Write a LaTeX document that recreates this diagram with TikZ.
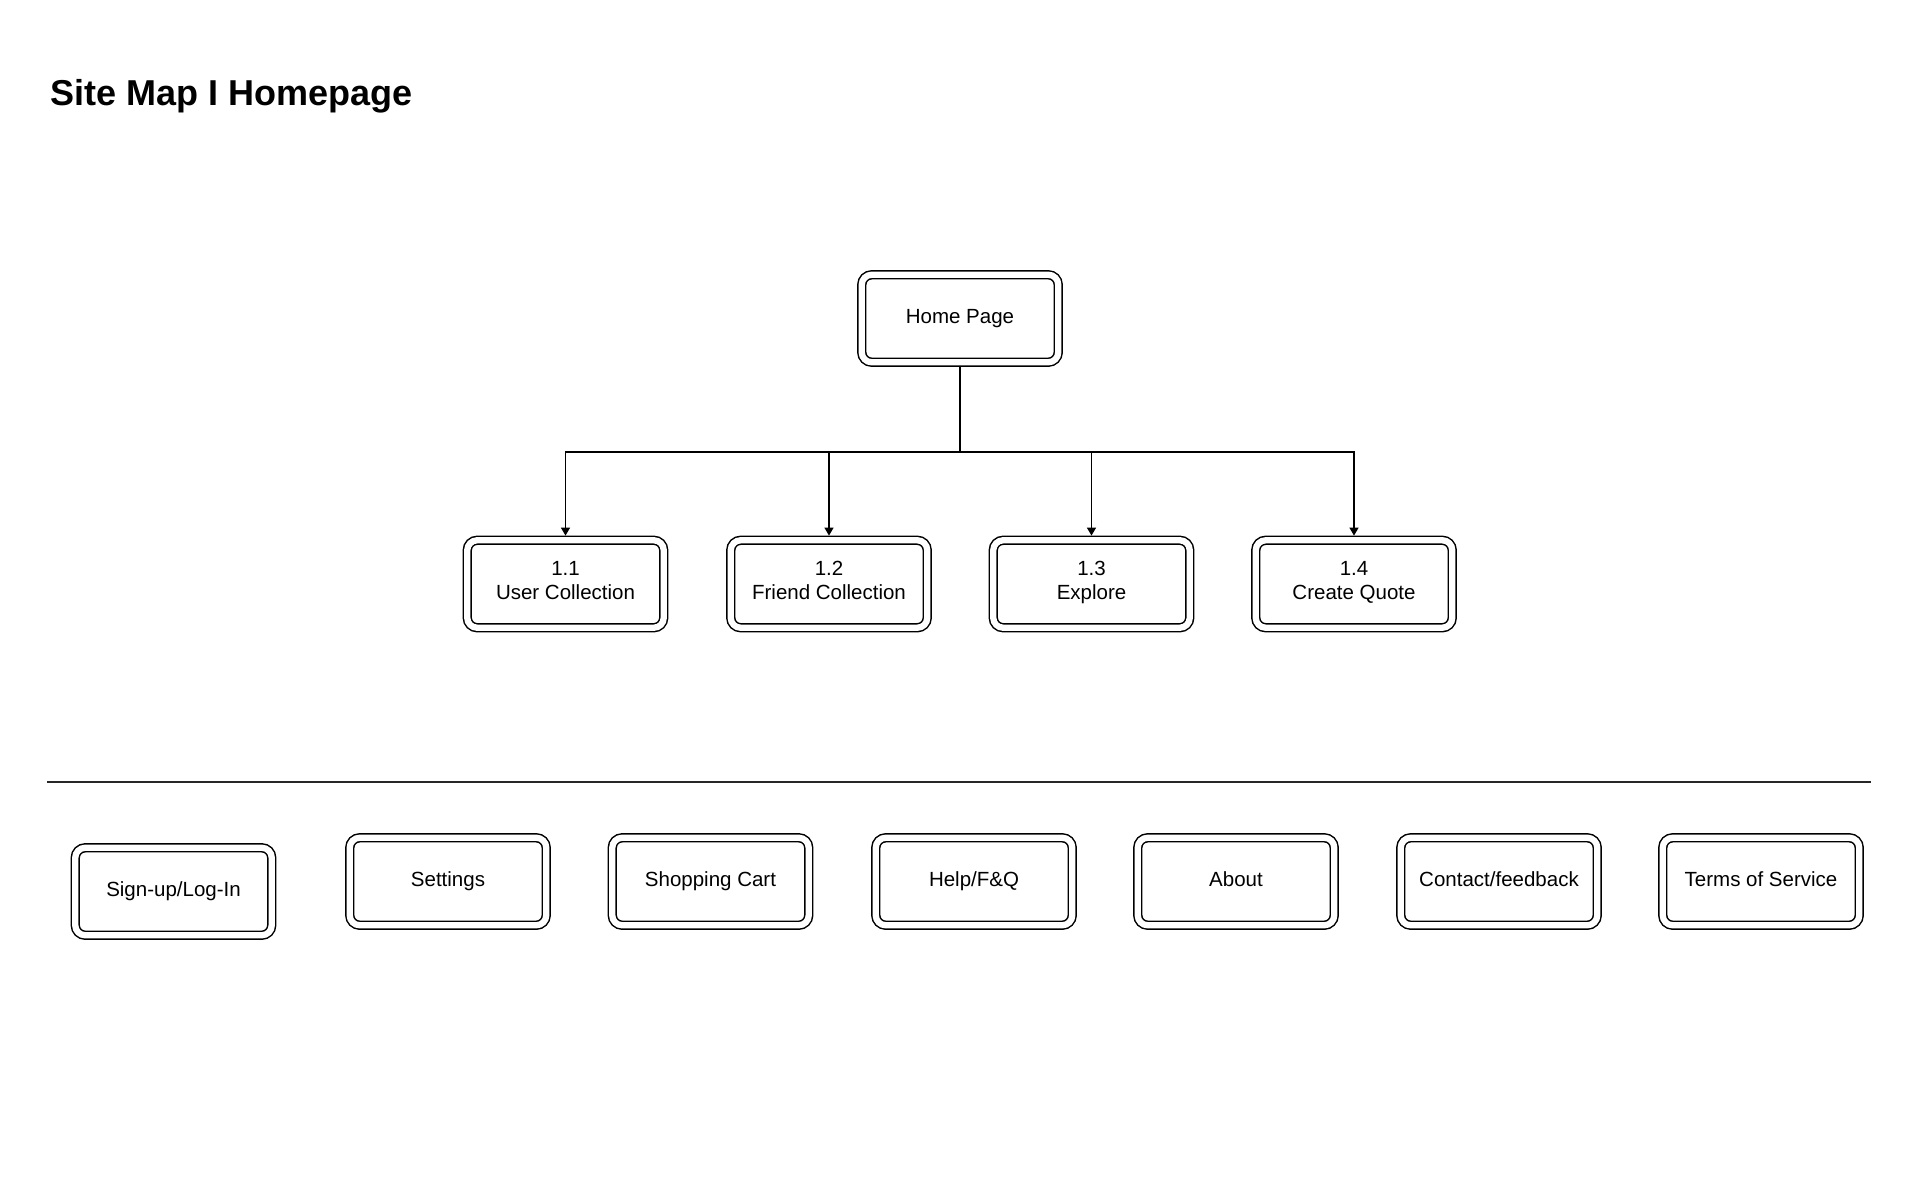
\documentclass[tikz,border=0pt]{standalone}
\usepackage{fontspec}
\setmainfont{Liberation Sans}
\usetikzlibrary{arrows.meta}
\begin{document}
\begin{tikzpicture}[x=1pt,y=-1pt,
  box/.style={draw=black, double=white, double distance=6.3pt, line width=1.5pt,
    rounded corners=10pt, minimum width=196.5pt, minimum height=87.5pt, inner sep=0pt,
    outer sep=4.65pt, align=center, font=\fontsize{20.5}{23.5}\selectfont,
    execute at begin node=\strut, execute at end node=\strut},
  conn/.style={line width=1.4pt, draw=black},
  arr/.style={conn, -{Triangle[width=9pt,length=8pt]}},
  sepline/.style={line width=1.5pt, draw=black!85},
  titlefont/.style={font=\fontsize{36}{43}\selectfont\bfseries}]
\useasboundingbox (0,0) rectangle (1920,1200);
\fill[white] (0,0) rectangle (1920,1200);

\node[titlefont, anchor=base west, inner sep=0pt] (title) at (50,105) {Site Map I Homepage};

\node[box] (home) at (960,318.5) {Home Page};

\node[box] (c1) at (565.5,584) {1.1\\User Collection};
\node[box] (c2) at (829,584) {1.2\\Friend Collection};
\node[box] (c3) at (1091.5,584) {1.3\\Explore};
\node[box] (c4) at (1354,584) {1.4\\Create Quote};

\coordinate (bus) at (960,452);
\draw[conn] (home.south) -- (bus);
\foreach \c in {c1,c2,c3,c4} {
  \draw[arr] (bus) -| (\c.north);
}

\coordinate (sepL) at (47,782);
\coordinate (sepR) at (1871,782);
\draw[sepline] (sepL) -- (sepR);

\node[box] (signup) at (173.5,891.5) {Sign-up/Log-In};
\node[box] (settings) at (448,881.5) {Settings};
\node[box] (cart) at (710.5,881.5) {Shopping Cart};
\node[box] (help) at (974,881.5) {Help/F\&Q};
\node[box] (about) at (1236,881.5) {About};
\node[box] (contact) at (1499,881.5) {Contact/feedback};
\node[box] (terms) at (1761,881.5) {Terms of Service};
\end{tikzpicture}
\end{document}
